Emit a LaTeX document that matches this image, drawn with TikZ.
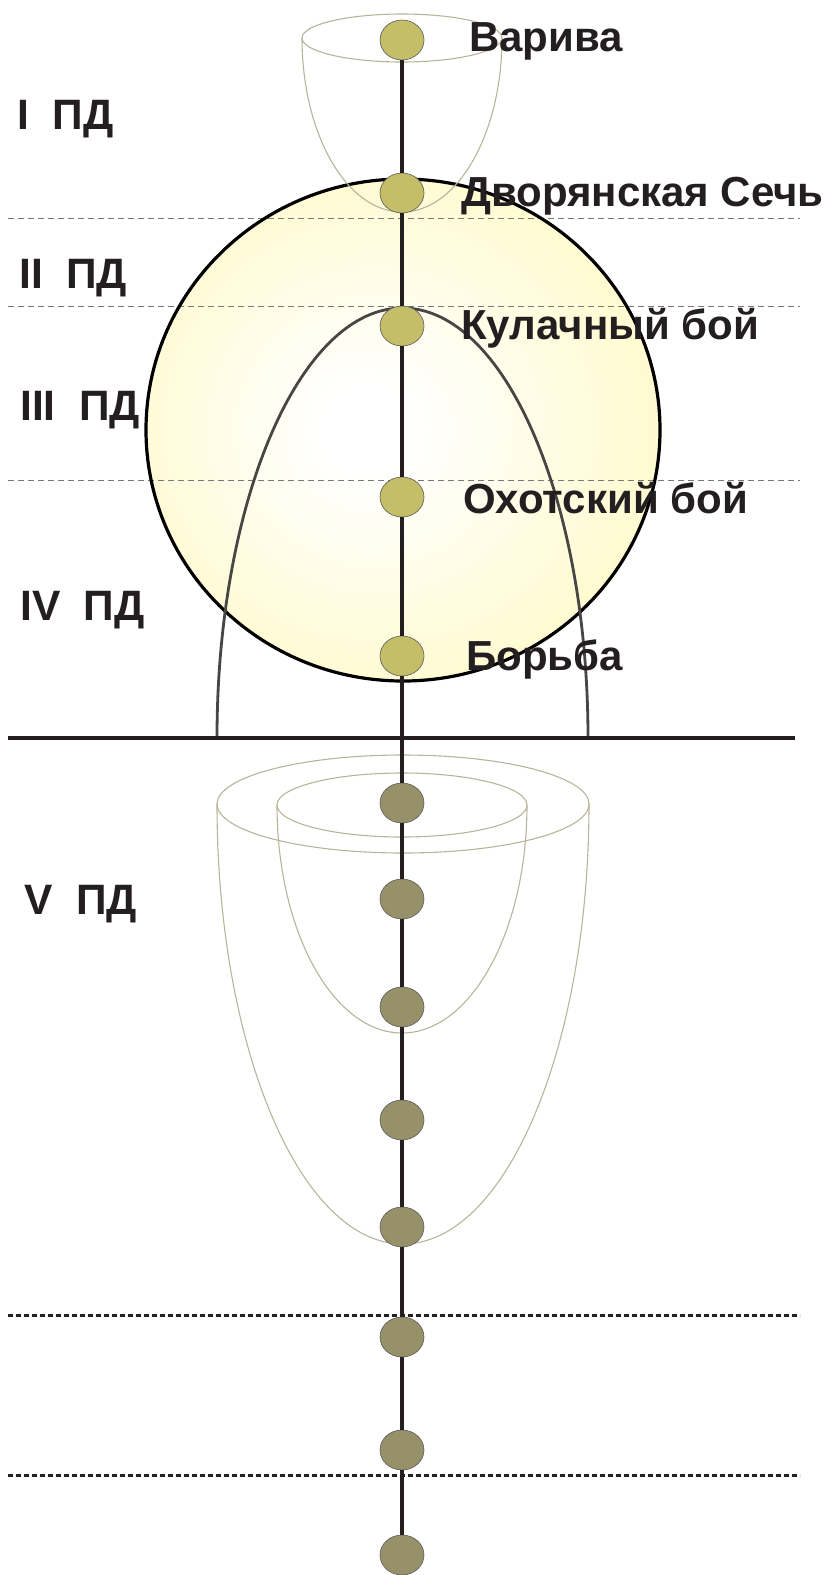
\documentclass[tikz,border=0pt]{standalone}
\usepackage{fontspec}
\setmainfont{Liberation Sans}
\usetikzlibrary{shapes.geometric}
\definecolor{txt}{RGB}{35,31,32}
\definecolor{cyel}{RGB}{255,248,184}
\definecolor{updotc}{RGB}{196,190,104}
\definecolor{lodotc}{RGB}{151,145,105}
\definecolor{cupc}{RGB}{184,180,154}
\definecolor{archc}{RGB}{72,70,68}
\definecolor{dashc}{RGB}{120,120,120}
\pgfdeclareradialshading{glow}{\pgfpoint{-4bp}{0bp}}{color(0bp)=(white); color(4bp)=(white); color(38bp)=(cyel); color(50bp)=(cyel)}
\tikzset{
  updot/.style={ellipse, draw=black!65, line width=0.6pt, fill=updotc, minimum width=44pt, minimum height=40pt, inner sep=0pt},
  lodot/.style={ellipse, draw=black!65, line width=0.6pt, fill=lodotc, minimum width=44pt, minimum height=40pt, inner sep=0pt},
  vline/.style={draw=txt, line width=3.2pt},
  cupline/.style={draw=cupc, line width=1.1pt},
  archline/.style={draw=archc, line width=2.8pt},
  thindash/.style={draw=dashc, line width=0.9pt, dash pattern=on 6pt off 4pt},
  thickdash/.style={draw=txt, line width=3pt, dash pattern=on 5pt off 3pt},
  rlabel/.style={anchor=base west, inner sep=0pt, text=txt, font=\fontsize{42}{47}\selectfont\bfseries},
  llabel/.style={anchor=base west, inner sep=0pt, text=txt, font=\fontsize{42.5}{48}\selectfont\bfseries}
}
\begin{document}
\begin{tikzpicture}[x=1pt,y=-1pt]
\useasboundingbox (0,0) rectangle (830,1575);
% big circle
\path[shading=glow] (403,430) ellipse [x radius=257, y radius=251];
% thin dashed lines
\draw[thindash] (8,218) -- (800,218);
\draw[thindash] (8,306) -- (800,306);
\draw[thindash] (8,480) -- (800,480);
\draw[draw=black, line width=3.2pt] (403,430) ellipse [x radius=257, y radius=251];
% top cup
\draw[cupline] (402,38) ellipse [x radius=100, y radius=24];
\draw[cupline] (302,38) arc[start angle=180, end angle=0, x radius=100, y radius=174];
% inner arch
\draw[archline] (217,738) arc[start angle=180, end angle=360, x radius=185.5, y radius=430];
% ground line
\draw[draw=txt, line width=3.2pt] (8,738) -- (795,738);
% lower cups
\draw[cupline] (403,804) ellipse [x radius=186, y radius=49];
\draw[cupline] (217,804) arc[start angle=180, end angle=0, x radius=186, y radius=440];
\draw[cupline] (402,805) ellipse [x radius=125, y radius=32];
\draw[cupline] (277,805) arc[start angle=180, end angle=0, x radius=125, y radius=228];
% thick dashed lines
\draw[thickdash] (8,1315) -- (800,1315);
\draw[thickdash] (8,1475) -- (800,1475);
% dots
\node[updot] (u1) at (402,40) {};
\node[updot] (u2) at (402,193) {};
\node[updot] (u3) at (402,326) {};
\node[updot] (u4) at (402,497) {};
\node[updot] (u5) at (402,656) {};
\node[lodot] (l1) at (402,803) {};
\node[lodot] (l2) at (402,899) {};
\node[lodot] (l3) at (402,1007) {};
\node[lodot] (l4) at (402,1120) {};
\node[lodot] (l5) at (402,1227) {};
\node[lodot] (l6) at (402,1337) {};
\node[lodot] (l7) at (402,1450) {};
\node[lodot] (l8) at (402,1555) {};
\coordinate (bot) at (402,1575);
\draw[vline] (u1) -- (u2) -- (u3) -- (u4) -- (u5) -- (l1) -- (l2) -- (l3) -- (l4) -- (l5) -- (l6) -- (l7) -- (l8) -- (bot);
% right labels
\node[rlabel] (t1) at (469,51) {Варива};
\node[rlabel] (t2) at (461,206) {Дворянская Сечь};
\node[rlabel] (t3) at (461,339) {Кулачный бой};
\node[rlabel] (t4) at (463,513) {Охотский бой};
\node[rlabel] (t5) at (466,670) {Борьба};
% left labels
\node[llabel] (p1) at (17,129) {I\ \ ПД};
\node[llabel] (p2) at (19,288) {II\ \ ПД};
\node[llabel] (p3) at (20,420) {III\ \ ПД};
\node[llabel] (p4) at (20,620) {IV\ \ ПД};
\node[llabel] (p5) at (24,914) {V\ \ ПД};
\end{tikzpicture}
\end{document}
